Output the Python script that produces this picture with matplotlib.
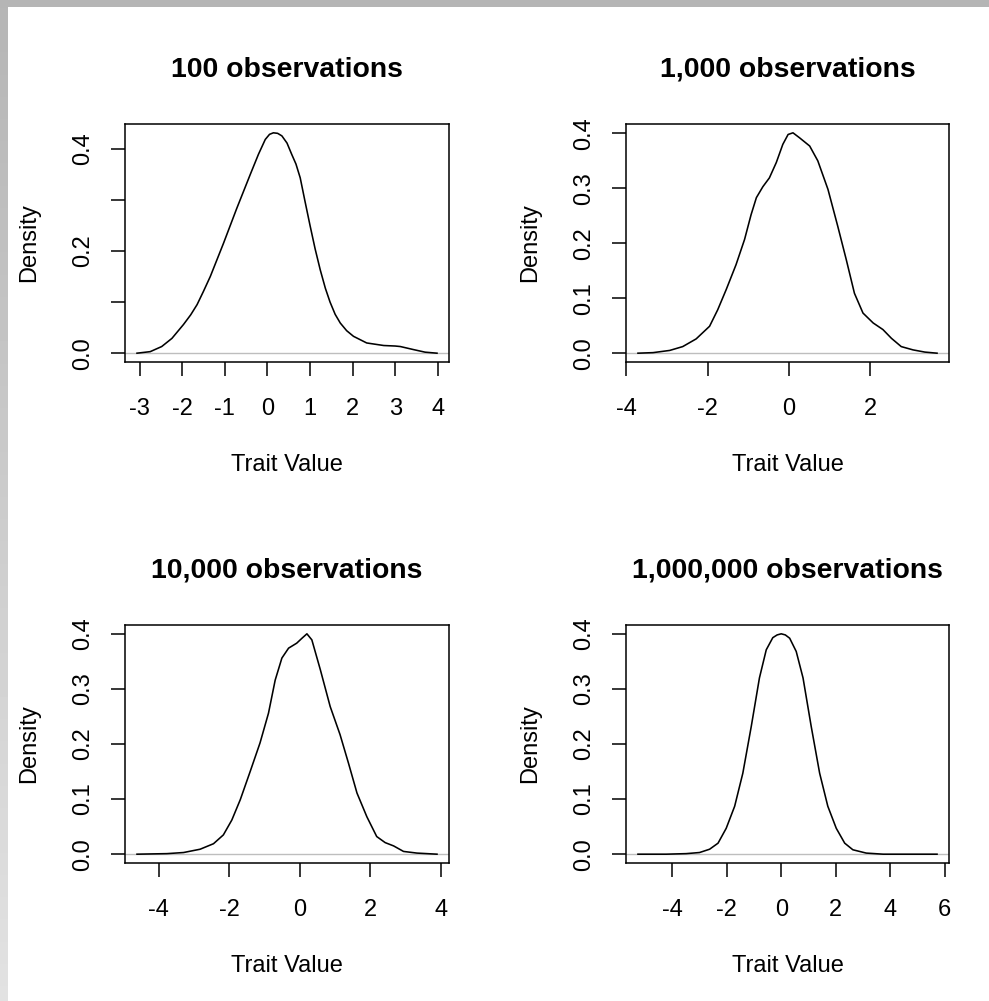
import matplotlib
matplotlib.use('Agg')
import matplotlib.pyplot as plt
from matplotlib.patches import Rectangle
import numpy as np

plt.rcParams['font.family'] = ['Liberation Sans', 'DejaVu Sans']

titles = ['100 observations', '1,000 observations',
          '10,000 observations', '1,000,000 observations']

# kernel density estimates (trait value, density) for each sample size
x_100 = [-3.06, -2.75, -2.48, -2.24, -1.97, -1.80, -1.65, -1.50, -1.34, -1.03, -0.72,
         -0.40, -0.21, -0.05, 0.05, 0.14, 0.24, 0.34, 0.46, 0.57, 0.67, 0.77, 0.88,
         1.00, 1.12, 1.24, 1.36, 1.47, 1.59, 1.71, 1.86, 2.02, 2.33, 2.73, 3.00,
         3.12, 3.43, 3.70, 3.98]
d_100 = [0.000, 0.003, 0.013, 0.029, 0.056, 0.075, 0.095, 0.121, 0.150, 0.215, 0.283,
         0.350, 0.389, 0.418, 0.428, 0.431, 0.430, 0.425, 0.411, 0.389, 0.370, 0.343, 0.298,
         0.250, 0.204, 0.163, 0.127, 0.100, 0.076, 0.059, 0.044, 0.033, 0.020, 0.015, 0.014,
         0.013, 0.007, 0.002, 0.000]

x_1k = [-3.71, -3.34, -2.93, -2.61, -2.28, -1.95, -1.75, -1.54, -1.30, -1.09,
        -0.93, -0.80, -0.64, -0.48, -0.31, -0.15, -0.02, 0.10, 0.26, 0.51,
        0.71, 0.96, 1.20, 1.41, 1.61, 1.82, 2.07, 2.31, 2.52, 2.76, 3.05,
        3.34, 3.64]
d_1k = [0.000, 0.001, 0.005, 0.012, 0.026, 0.049, 0.079, 0.116, 0.161, 0.207,
        0.252, 0.283, 0.303, 0.319, 0.347, 0.380, 0.398, 0.401, 0.392, 0.377,
        0.350, 0.298, 0.231, 0.170, 0.109, 0.073, 0.055, 0.043, 0.027, 0.012, 0.006,
        0.002, 0.000]

x_10k = [-4.62, -3.77, -3.30, -2.83, -2.45, -2.17, -1.93, -1.69, -1.41, -1.13,
         -0.89, -0.70, -0.51, -0.32, -0.09, 0.06, 0.20, 0.34, 0.58, 0.86,
         1.14, 1.38, 1.62, 1.90, 2.18, 2.42, 2.66, 2.94, 3.32, 3.89]
d_10k = [0.000, 0.001, 0.003, 0.009, 0.019, 0.035, 0.062, 0.099, 0.150, 0.202,
         0.256, 0.316, 0.356, 0.374, 0.383, 0.392, 0.400, 0.389, 0.335, 0.268,
         0.217, 0.165, 0.111, 0.068, 0.032, 0.021, 0.015, 0.005, 0.002, 0.000]

x_1m = [-5.26, -4.22, -3.49, -3.00, -2.63, -2.32, -2.02, -1.71, -1.41, -1.10,
        -0.80, -0.55, -0.31, -0.15, 0.00, 0.15, 0.31, 0.55, 0.80, 1.10, 1.41,
        1.71, 2.02, 2.33, 2.63, 3.12, 3.74, 5.72]
d_1m = [0.000, 0.000, 0.001, 0.003, 0.009, 0.020, 0.047, 0.087, 0.147, 0.232,
        0.320, 0.371, 0.393, 0.398, 0.400, 0.398, 0.392, 0.368, 0.320, 0.232, 0.147,
        0.087, 0.047, 0.020, 0.008, 0.002, 0.000, 0.000]

xticks = [[-3, -2, -1, 0, 1, 2, 3, 4],
          [-4, -2, 0, 2],
          [-4, -2, 0, 2, 4],
          [-4, -2, 0, 2, 4, 6]]
yticks = [0.0, 0.1, 0.2, 0.3, 0.4]
ylabels = [['0.0', '', '0.2', '', '0.4'],
           ['0.0', '0.1', '0.2', '0.3', '0.4'],
           ['0.0', '0.1', '0.2', '0.3', '0.4'],
           ['0.0', '0.1', '0.2', '0.3', '0.4']]

curves = [(x_100, d_100), (x_1k, d_1k), (x_10k, d_10k), (x_1m, d_1m)]

W, H = 989, 1001
fig = plt.figure(figsize=(W / 100, H / 100), dpi=100)

# grey window edge along the top and left
edge = fig.add_axes([0, 0, 8 / W, 1])
edge.imshow(np.linspace(0.71, 0.885, 200).reshape(-1, 1), cmap='gray',
            vmin=0, vmax=1, aspect='auto', interpolation='bilinear')
edge.axis('off')
fig.add_artist(Rectangle((0, 1 - 7 / H), 1, 7 / H, transform=fig.transFigure,
                         color='#b5b5b5', lw=0))

# plot regions in pixels: left, top, right, bottom
boxes = [(125, 124, 449, 362), (626, 124, 949, 362),
         (125, 625, 449, 863), (626, 625, 949, 863)]

for i, (l, t, r, b) in enumerate(boxes):
    ax = fig.add_axes([l / W, 1 - b / H, (r - l) / W, (b - t) / H])
    ax.axhline(0, color='#bebebe', lw=1.0)
    xs, ds = curves[i]
    ax.plot(xs, ds, color='black', lw=1.15)
    ax.margins(x=0.04, y=0.04)

    ax.set_xticks(xticks[i])
    ax.set_xticklabels([str(v) for v in xticks[i]])
    ax.set_yticks(yticks)
    ax.set_yticklabels(ylabels[i], rotation=90, va='center')
    ax.tick_params(direction='out', length=10, width=1.1, labelsize=17,
                   color='black')
    ax.tick_params(axis='x', pad=16)
    ax.tick_params(axis='y', pad=12)
    for s in ax.spines.values():
        s.set_linewidth(1.1)

    ax.text(0.5, 1.227, titles[i], transform=ax.transAxes, ha='center',
            va='center', fontsize=20.4, fontweight='bold')
    ax.text(0.5, -0.433, 'Trait Value', transform=ax.transAxes,
            ha='center', va='center', fontsize=17)
    ax.text(-0.2963, 0.5, 'Density', transform=ax.transAxes, ha='center',
            va='center', rotation=90, fontsize=17)

fig.savefig('out.png', dpi=100)
